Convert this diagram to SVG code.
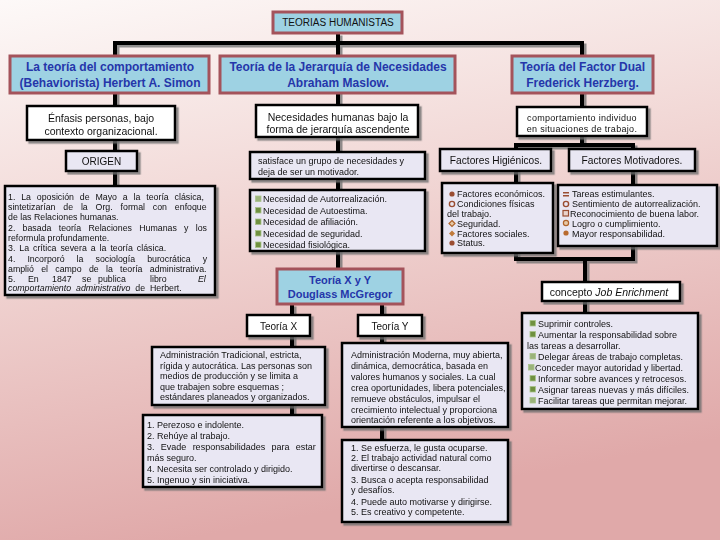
<svg xmlns="http://www.w3.org/2000/svg" width="720" height="540" viewBox="0 0 720 540">
<defs>
<linearGradient id="bg" x1="0" y1="0" x2="0.25" y2="1">
<stop offset="0" stop-color="#fdf9f8"/>
<stop offset="0.45" stop-color="#f1d6d4"/>
<stop offset="1" stop-color="#e0a9a9"/>
</linearGradient>
<filter id="sh" x="-10%" y="-10%" width="130%" height="130%">
<feDropShadow dx="2.5" dy="2.5" stdDeviation="0.6" flood-color="#6e6e6e" flood-opacity="0.75"/>
</filter>
</defs>
<style>
.hdr{fill:#9ed2e3;stroke:#a4535b;stroke-width:3}
.ht{font-family:"Liberation Sans",Arial,sans-serif;font-weight:bold;font-size:12px;fill:#2536aa;text-anchor:middle}
.wb{fill:#ffffff;stroke:#000;stroke-width:2.5}
.lb{fill:#e9e7f3;stroke:#000;stroke-width:2.5}
.c{fill:none;stroke:#000;stroke-width:4}
.t{font-family:"Liberation Sans",Arial,sans-serif;font-size:9px;fill:#111}
.s{font-size:8.8px}
.m{font-size:10.5px;text-anchor:middle}
.i{font-style:italic}
.gb{fill:#6f9140;stroke:#a9c38a;stroke-width:0.8}
.br{fill:#9a4e32}
</style>
<rect width="720" height="540" fill="url(#bg)"/>

<g id="connectors" filter="url(#sh)">
<path class="c" d="M338 33 V269"/>
<path class="c" d="M113 43 H582 V145"/>
<path class="c" d="M115 43 V186"/>
<path class="c" d="M516 145 H633 V259 H516 Z"/>
<path class="c" d="M585 259 V313"/>
<path class="c" d="M292 304 V415"/>
<path class="c" d="M382 304 V440"/>
</g>

<g id="title">
<rect x="273" y="12" width="129" height="21" class="hdr"/>
<text x="338" y="26" class="t" style="font-size:10px;text-anchor:middle">TEORIAS HUMANISTAS</text>
</g>

<g id="simon">
<rect x="10" y="56" width="199" height="37" class="hdr"/>
<text x="110" y="71" class="ht">La teoría del comportamiento</text>
<text x="110" y="87" class="ht">(Behaviorista) Herbert A. Simon</text>
</g>

<g id="enfasis" filter="url(#sh)">
<rect x="27" y="106" width="148" height="34" class="wb"/>
<text x="101" y="122" class="t m">Énfasis personas, bajo</text>
<text x="101" y="135" class="t m">contexto organizacional.</text>
</g>

<g id="origen" filter="url(#sh)">
<rect x="66" y="151" width="71" height="20" class="lb"/>
<text x="101.5" y="165" class="t" style="font-size:10px;text-anchor:middle">ORIGEN</text>
</g>

<g id="origen-list" filter="url(#sh)">
<rect x="5" y="186" width="210" height="109" class="lb"/>
<text class="t s" x="8" y="200" style="word-spacing:3.4px">1. La oposición de Mayo a la teoría clásica,</text>
<text class="t s" x="8" y="210" style="word-spacing:5.4px">sintetizarían de la Org. formal con enfoque</text>
<text class="t s" x="8" y="220">de las Relaciones humanas.</text>
<text class="t s" x="8" y="231" style="word-spacing:4.8px">2. basada teoría Relaciones Humanas y los</text>
<text class="t s" x="8" y="241">reformula profundamente.</text>
<text class="t s" x="8" y="251" style="word-spacing:1.5px">3. La crítica severa a la teoría clásica.</text>
<text class="t s" x="8" y="262" style="word-spacing:9.6px">4. Incorporó la sociología burocrática y</text>
<text class="t s" x="8" y="272" style="word-spacing:4.8px">amplió el campo de la teoría administrativa.</text>
<text class="t s" y="282"><tspan x="8">5.</tspan><tspan x="28">En</tspan><tspan x="52">1847</tspan><tspan x="82">se</tspan><tspan x="98">publica</tspan><tspan x="150">libro</tspan><tspan x="198" class="i">El</tspan></text>
<text class="t s" x="8" y="291" style="word-spacing:2.5px"><tspan class="i">comportamiento administrativo</tspan> de Herbert.</text>
</g>

<g id="maslow">
<rect x="220" y="56" width="235" height="37" class="hdr"/>
<text x="338" y="71" class="ht">Teoría de la Jerarquía de Necesidades</text>
<text x="338" y="87" class="ht">Abraham Maslow.</text>
</g>

<g id="necesidades" filter="url(#sh)">
<rect x="256" y="105" width="162" height="32" class="wb"/>
<text x="338" y="120.5" class="t m">Necesidades humanas bajo la</text>
<text x="338" y="133" class="t m">forma de jerarquía ascendente</text>
</g>

<g id="satisface" filter="url(#sh)">
<rect x="250" y="152" width="175" height="27" class="lb"/>
<text x="258" y="164" class="t">satisface un grupo de necesidades y</text>
<text x="258" y="174.5" class="t">deja de ser un motivador.</text>
</g>

<g id="maslow-list" filter="url(#sh)">
<rect x="250" y="190" width="175" height="61" class="lb"/>
<rect x="255.5" y="196" width="5.5" height="5.5" class="gb" style="fill:#9bb37a"/>
<rect x="255.5" y="207.5" width="5.5" height="5.5" class="gb"/>
<rect x="255.5" y="219" width="5.5" height="5.5" class="gb"/>
<rect x="255.5" y="230.5" width="5.5" height="5.5" class="gb"/>
<rect x="255.5" y="242" width="5.5" height="5.5" class="gb"/>
<text x="263" y="202" class="t">Necesidad de Autorrealización.</text>
<text x="263" y="213.5" class="t">Necesidad de Autoestima.</text>
<text x="263" y="225" class="t">Necesidad de afiliación.</text>
<text x="263" y="236.5" class="t">Necesidad de seguridad.</text>
<text x="263" y="248" class="t">Necesidad fisiológica.</text>
</g>

<g id="mcgregor">
<rect x="277" y="269" width="126" height="35" class="hdr"/>
<text x="340" y="284" class="ht" style="font-size:11px">Teoría X y Y</text>
<text x="340" y="298" class="ht" style="font-size:11px">Douglass McGregor</text>
</g>

<g id="teoria-x" filter="url(#sh)">
<rect x="247" y="315" width="63" height="21" class="wb"/>
<text x="278.5" y="329.5" class="t" style="font-size:10px;text-anchor:middle">Teoría X</text>
</g>

<g id="teoria-y" filter="url(#sh)">
<rect x="358" y="315" width="64" height="21" class="wb"/>
<text x="390" y="329.5" class="t" style="font-size:10px;text-anchor:middle">Teoría Y</text>
</g>

<g id="x-admin" filter="url(#sh)">
<rect x="152" y="347" width="173" height="58" class="lb"/>
<text class="t" x="160" y="358">Administración  Tradicional, estricta,</text>
<text class="t" x="160" y="368.5">rígida y autocrática. Las personas son</text>
<text class="t" x="160" y="379">medios de producción y se limita a</text>
<text class="t" x="160" y="389.5">que trabajen sobre esquemas ;</text>
<text class="t" x="160" y="400">estándares  planeados y organizados.</text>
</g>

<g id="x-list" filter="url(#sh)">
<rect x="143" y="415" width="179" height="72" class="lb"/>
<text class="t" x="147" y="428">1. Perezoso e indolente.</text>
<text class="t" x="147" y="439">2. Rehúye al trabajo.</text>
<text class="t" x="147" y="450" style="word-spacing:3.8px">3. Evade responsabilidades para estar</text>
<text class="t" x="147" y="461">más seguro.</text>
<text class="t" x="147" y="472">4. Necesita ser controlado y dirigido.</text>
<text class="t" x="147" y="483">5. Ingenuo y sin iniciativa.</text>
</g>

<g id="y-admin" filter="url(#sh)">
<rect x="342" y="343" width="166" height="84" class="lb"/>
<text class="t" x="351" y="358">Administración Moderna, muy abierta,</text>
<text class="t" x="351" y="369">dinámica, democrática, basada en</text>
<text class="t" x="351" y="380">valores humanos y sociales.  La cual</text>
<text class="t" x="351" y="391">crea oportunidades, libera potenciales,</text>
<text class="t" x="351" y="401.5">remueve obstáculos, impulsar el</text>
<text class="t" x="351" y="412.5">crecimiento intelectual y proporciona</text>
<text class="t" x="351" y="423">orientación referente a los objetivos.</text>
</g>

<g id="y-list" filter="url(#sh)">
<rect x="342" y="440" width="166" height="82" class="lb"/>
<text class="t" x="351" y="451">1. Se esfuerza, le gusta ocuparse.</text>
<text class="t" x="351" y="461">2. El trabajo actividad natural como</text>
<text class="t" x="351" y="471">divertirse o descansar.</text>
<text class="t" x="351" y="483">3. Busca o  acepta responsabilidad</text>
<text class="t" x="351" y="493">y desafíos.</text>
<text class="t" x="351" y="504.5">4. Puede auto motivarse y dirigirse.</text>
<text class="t" x="351" y="514.5">5. Es creativo y competente.</text>
</g>

<g id="herzberg">
<rect x="512" y="56" width="141" height="37" class="hdr"/>
<text x="582.5" y="71" class="ht">Teoría del Factor Dual</text>
<text x="582.5" y="87" class="ht">Frederick Herzberg.</text>
</g>

<g id="comportamiento" filter="url(#sh)">
<rect x="517" y="107" width="130" height="29" class="wb"/>
<text x="582" y="120.5" class="t" style="text-anchor:middle;letter-spacing:0.3px">comportamiento individuo</text>
<text x="582" y="131.5" class="t" style="text-anchor:middle;letter-spacing:0.3px">en situaciones de trabajo.</text>
</g>

<g id="higienicos" filter="url(#sh)">
<rect x="440" y="149" width="111" height="22" class="lb"/>
<text x="496" y="164" class="t" style="font-size:10.2px;text-anchor:middle">Factores Higiénicos.</text>
</g>

<g id="motivadores" filter="url(#sh)">
<rect x="569" y="149" width="126" height="22" class="lb"/>
<text x="632" y="164" class="t" style="font-size:10.2px;text-anchor:middle">Factores Motivadores.</text>
</g>

<g id="higienicos-list" filter="url(#sh)">
<rect x="442" y="183" width="111" height="70" class="lb"/>
<circle cx="452" cy="194" r="2.6" class="br"/>
<circle cx="452" cy="204" r="2.6" fill="none" stroke="#9a4e32" stroke-width="1.4"/>
<path d="M452 220.5 l3 3 l-3 3 l-3 -3 z" fill="#e7c9a6" stroke="#b0642a" stroke-width="1.2"/>
<path d="M452 230.5 l3 3 l-3 3 l-3 -3 z" fill="#c07a3a"/>
<circle cx="452" cy="243" r="2.6" class="br"/>
<text class="t" x="457" y="197">Factores económicos.</text>
<text class="t" x="457" y="207">Condiciones físicas</text>
<text class="t" x="447" y="216.5">del  trabajo.</text>
<text class="t" x="457" y="226.5">Seguridad.</text>
<text class="t" x="457" y="236.5">Factores sociales.</text>
<text class="t" x="457" y="246">Status.</text>
</g>

<g id="motivadores-list" filter="url(#sh)">
<rect x="558" y="185" width="159" height="61" class="lb"/>
<rect x="563" y="192" width="6" height="1.5" class="br"/>
<rect x="563" y="195" width="6" height="1.5" class="br"/>
<circle cx="566" cy="204" r="2.6" fill="none" stroke="#9a4e32" stroke-width="1.4"/>
<rect x="563" y="210.5" width="5.5" height="5.5" fill="#e9d3cc" stroke="#9a4e32" stroke-width="1.2"/>
<circle cx="566" cy="223" r="2.6" fill="#e7c9a6" stroke="#b0642a" stroke-width="1.2"/>
<circle cx="566" cy="233" r="2.6" fill="#b86a2e"/>
<text class="t" x="572" y="197">Tareas estimulantes.</text>
<text class="t" x="572" y="207">Sentimiento de autorrealización.</text>
<text class="t" x="570" y="216.5">Reconocimiento de  buena labor.</text>
<text class="t" x="572" y="226.5">Logro o cumplimiento.</text>
<text class="t" x="572" y="236.5">Mayor responsabilidad.</text>
</g>

<g id="job-enrichment" filter="url(#sh)">
<rect x="542" y="282" width="138" height="19" class="wb"/>
<text x="609" y="296" class="t" style="font-size:10.5px;text-anchor:middle">concepto <tspan class="i">Job Enrichment</tspan></text>
</g>

<g id="job-list" filter="url(#sh)">
<rect x="522" y="313" width="176" height="96" class="lb"/>
<rect x="530" y="320.5" width="5.5" height="5.5" class="gb"/>
<rect x="530" y="331.5" width="5.5" height="5.5" class="gb"/>
<rect x="530" y="353.5" width="5.5" height="5.5" class="gb" style="fill:#9bb37a"/>
<rect x="528.5" y="364.5" width="5.5" height="5.5" class="gb" style="fill:#9bb37a"/>
<rect x="530" y="375.5" width="5.5" height="5.5" class="gb"/>
<rect x="530" y="386.5" width="5.5" height="5.5" class="gb"/>
<rect x="530" y="397.5" width="5.5" height="5.5" class="gb" style="fill:#9bb37a"/>
<text class="t" x="538" y="326.5">Suprimir controles.</text>
<text class="t" x="538" y="337.5">Aumentar la responsabilidad sobre</text>
<text class="t" x="527" y="348.5">las tareas a desarrollar.</text>
<text class="t" x="538" y="359.5">Delegar áreas de trabajo completas.</text>
<text class="t" x="535" y="370.5">Conceder mayor autoridad y  libertad.</text>
<text class="t" x="538" y="381.5">Informar sobre  avances y retrocesos.</text>
<text class="t" x="538" y="392.5">Asignar tareas nuevas y más difíciles.</text>
<text class="t" x="538" y="403.5">Facilitar tareas que permitan mejorar.</text>
</g>
</svg>
